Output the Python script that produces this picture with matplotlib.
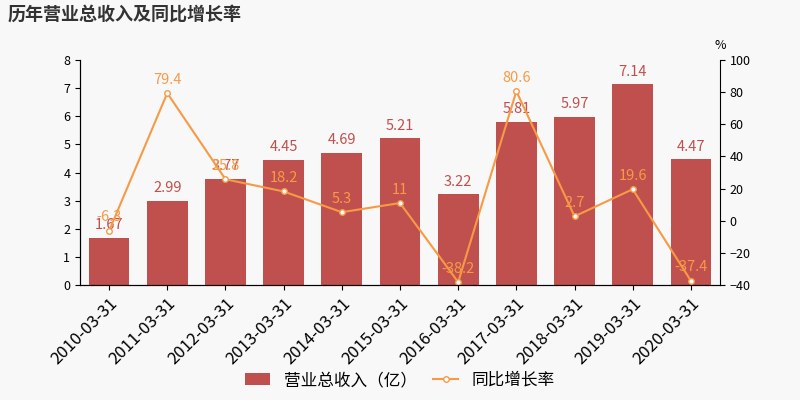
import numpy as np
import matplotlib.pyplot as plt

plt.rcParams['font.family'] = ['Noto Sans CJK SC', 'DejaVu Sans']

dates = ["2010-03-31", "2011-03-31", "2012-03-31", "2013-03-31", "2014-03-31", "2015-03-31",
         "2016-03-31", "2017-03-31", "2018-03-31", "2019-03-31", "2020-03-31"]
revenue = [1.67, 2.99, 3.77, 4.45, 4.69, 5.21, 3.22, 5.81, 5.97, 7.14, 4.47]
growth = [-6.3, 79.4, 25.8, 18.2, 5.3, 11, -38.2, 80.6, 2.7, 19.6, -37.4]
growth_txt = ["-6.3", "79.4", "25.8", "18.2", "5.3", "11", "-38.2", "80.6", "2.7", "19.6", "-37.4"]

bar_c = "#c0504d"
line_c = "#f79a46"

fig = plt.figure(figsize=(8, 4), dpi=100, facecolor="#f8f8f8")
ax = fig.add_axes([0.1, 0.2875, 0.8, 0.5625])
ax.set_facecolor("#f8f8f8")
x = np.arange(len(dates))
ax.bar(x, revenue, width=0.7, color=bar_c, label="营业总收入（亿）")
for xi, v in zip(x, revenue):
    ax.text(xi, v + 0.2, f"{v:g}", ha="center", va="bottom", color=bar_c, fontsize=10.5)
ax.set_ylim(0, 8)
ax.set_xlim(-0.5, len(dates) - 0.5)
ax.set_xticks(x)
ax.set_xticklabels(dates, rotation=45, ha="right", rotation_mode="anchor", fontsize=12)
for s in ["top", "right"]:
    ax.spines[s].set_visible(False)
ax.tick_params(axis="y", labelsize=9)

ax2 = ax.twinx()
ax2.plot(x, growth, color=line_c, lw=1.5, marker="o", ms=4, mfc="white", label="同比增长率")
for xi, v, t in zip(x, growth, growth_txt):
    ax2.text(xi, v + 4, t, ha="center", va="bottom", color=line_c, fontsize=10.5)
ax2.set_ylim(-40, 100)
ax2.set_yticks(range(-40, 101, 20))
ax2.tick_params(axis="y", labelsize=9)
ax2.spines["top"].set_visible(False)
ax2.text(1.0, 1.05, "%", transform=ax2.transAxes, ha="center", fontsize=9)

fig.text(0.01, 0.965, "历年营业总收入及同比增长率", fontsize=13, fontweight="bold", color="#333333", va="center")
h1, l1 = ax.get_legend_handles_labels()
h2, l2 = ax2.get_legend_handles_labels()
fig.legend(h1 + h2, l1 + l2, loc="lower center", bbox_to_anchor=(0.5, -0.01), ncol=2,
           frameon=False, fontsize=12, handlelength=1.5, columnspacing=1.0)
fig.savefig("out.png", facecolor=fig.get_facecolor())
